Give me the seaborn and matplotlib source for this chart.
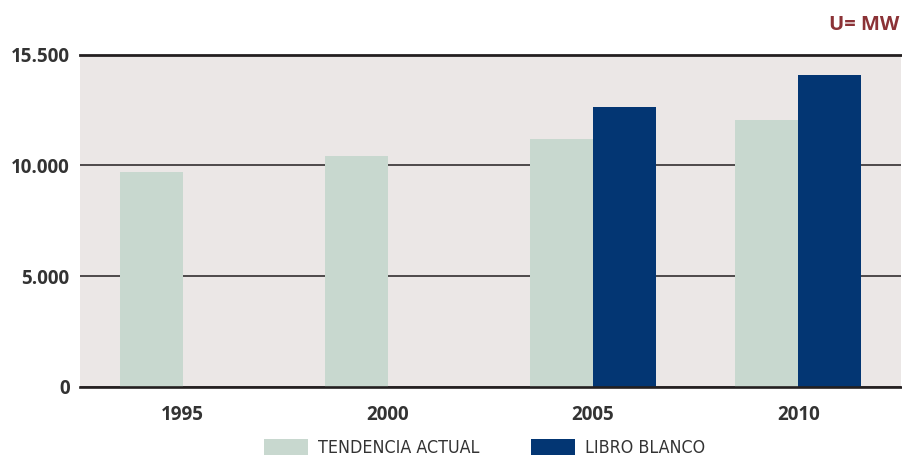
import matplotlib
matplotlib.use("Agg")
import matplotlib.pyplot as plt
from matplotlib import font_manager
import seaborn as sns
import pandas as pd

# Installed wind power capacity (MW)
years = ["1995", "2000", "2005", "2010"]
series = ["TENDENCIA ACTUAL", "LIBRO BLANCO"]
tendencia_actual = [9680, 10430, 11190, 12050]
libro_blanco_years = ["2005", "2010"]
libro_blanco = [12620, 14080]
y_ticks = [0, 5000, 10000, 15000]
y_tick_labels = ["0", "5.000", "10.000", "15.500"]
unit_label = "U= MW"

colors = {"TENDENCIA ACTUAL": "#C8D8CF", "LIBRO BLANCO": "#033673"}

df = pd.concat([
    pd.DataFrame({"year": years, "serie": series[0], "mw": tendencia_actual}),
    pd.DataFrame({"year": libro_blanco_years, "serie": series[1], "mw": libro_blanco}),
], ignore_index=True)

sns.set_theme(style="white")
plt.rcParams["font.family"] = ["Open Sans", "DejaVu Sans"]

# Legend uses a narrow face when one is available
available = {(f.name, f.stretch) for f in font_manager.fontManager.ttflist}
names = {n for n, _ in available}
if "Liberation Sans Narrow" in names:
    legend_prop = {"family": "Liberation Sans Narrow", "size": 13.3}
elif any(n == "DejaVu Sans" and s in ("condensed", 300, "semi-condensed")
         for n, s in available):
    legend_prop = {"family": "DejaVu Sans", "stretch": "condensed", "size": 12.8}
else:
    legend_prop = {"family": "Roboto", "size": 12.0}
legend_px = legend_prop["size"] * 100 / 72

W, H = 902, 457
fig = plt.figure(figsize=(W / 100, H / 100), dpi=100)
ax_left, ax_right, ax_top, ax_bottom = 80, 901, 54.6, 386.7
ax = fig.add_axes([ax_left / W, 1 - ax_bottom / H,
                   (ax_right - ax_left) / W, (ax_bottom - ax_top) / H])
ax.set_facecolor("#EBE7E6")

sns.barplot(data=df, x="year", y="mw", hue="serie", order=years,
            hue_order=series, palette=colors, width=0.614, dodge=True,
            saturation=1, errorbar=None, ax=ax, zorder=3, linewidth=0)

ax.set_xlim(-0.5, len(years) - 0.5)
ax.set_ylim(0, 15000)
ax.set_yticks(y_ticks)
ax.set_yticklabels(y_tick_labels)
ax.set_xlabel("")
ax.set_ylabel("")

ax.yaxis.grid(True, color="#231F20", linewidth=1.1, zorder=1)
ax.xaxis.grid(False)
ax.set_axisbelow(True)

for side in ("left", "right"):
    ax.spines[side].set_visible(False)
ax.spines["top"].set_linewidth(2.0)
ax.spines["top"].set_color("#231F20")
ax.spines["bottom"].set_linewidth(1.9)
ax.spines["bottom"].set_color("#231F20")
ax.spines["bottom"].set_zorder(5)

ax.tick_params(axis="y", length=0, pad=7.5, labelsize=13.5, labelcolor="#333333")
ax.tick_params(axis="x", which="major", length=0, pad=13.0, labelsize=13.5,
               labelcolor="#333333")
for lbl in ax.get_xticklabels() + ax.get_yticklabels():
    lbl.set_fontweight("bold")

# Category separators as minor ticks below the baseline
ax.set_xticks([i - 0.5 for i in range(len(years) + 1)], minor=True)
ax.tick_params(axis="x", which="minor", length=6.5, width=1.0, color="#555555",
               direction="out")

fig.text(899 / W, 1 - 24.5 / H, unit_label, ha="right", va="center",
         fontsize=14.5, fontweight="bold", color="#8B3236")

ax.legend_.remove()
handles = [plt.Rectangle((0, 0), 1, 1, facecolor=colors[s], edgecolor="none")
           for s in series]
fig.legend(handles, series, loc="upper left",
           bbox_to_anchor=(264 / W, 1 - 439 / H), ncol=2, frameon=False,
           prop=legend_prop, labelcolor="#333333",
           handlelength=44 / legend_px, handleheight=1.0,
           handletextpad=10 / legend_px, columnspacing=52 / legend_px,
           borderpad=0, borderaxespad=0)

fig.savefig("out.png", dpi=100)
